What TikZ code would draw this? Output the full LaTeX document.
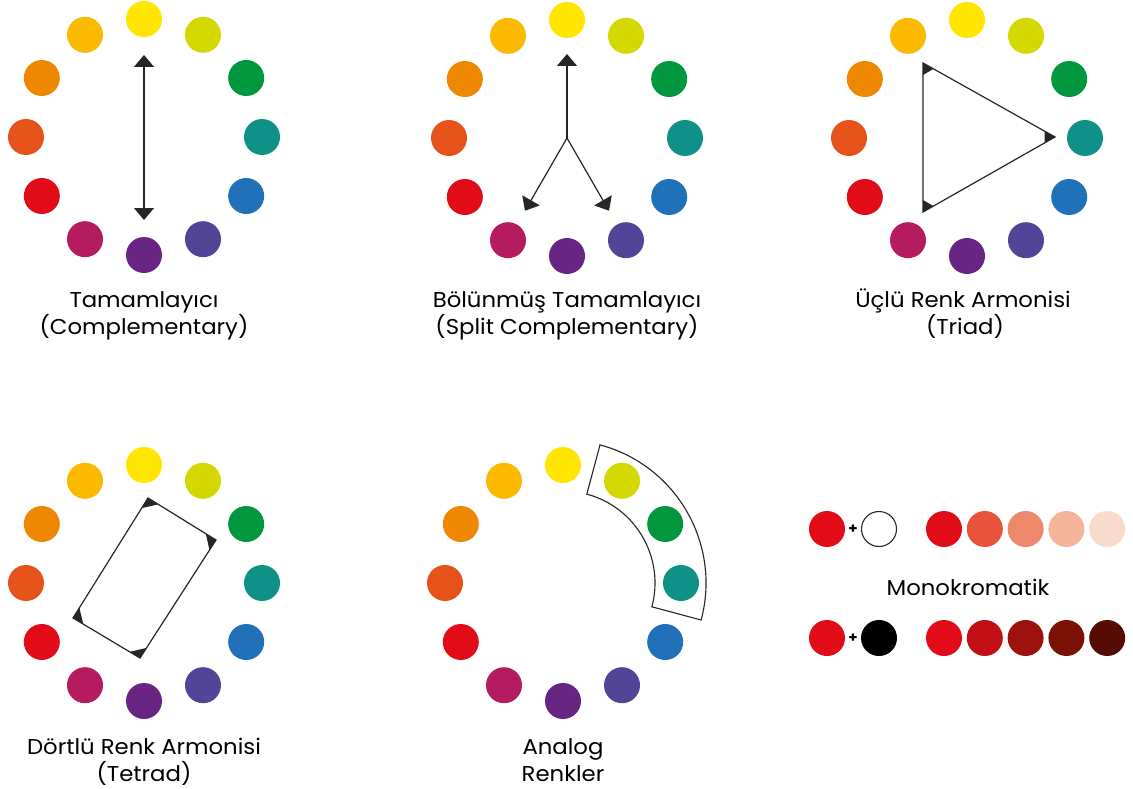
\documentclass[tikz,border=0pt]{standalone}
\usepackage{fontspec}
\setmainfont{Poppins}[FakeStretch=1.06]
\usetikzlibrary{arrows.meta,calc}
\definecolor{cY}{HTML}{FFE500}
\definecolor{cYG}{HTML}{D5D800}
\definecolor{cG}{HTML}{00973F}
\definecolor{cT}{HTML}{0F9187}
\definecolor{cB}{HTML}{2171B9}
\definecolor{cV}{HTML}{524496}
\definecolor{cP}{HTML}{672482}
\definecolor{cM}{HTML}{B51B61}
\definecolor{cR}{HTML}{E20C18}
\definecolor{cRO}{HTML}{E5531B}
\definecolor{cO}{HTML}{EE8800}
\definecolor{cYO}{HTML}{FBBA00}
\definecolor{tA}{HTML}{E8533B}
\definecolor{tB}{HTML}{EE896B}
\definecolor{tC}{HTML}{F4B59A}
\definecolor{tD}{HTML}{F9DBCC}
\definecolor{sA}{HTML}{C10F15}
\definecolor{sB}{HTML}{9C110C}
\definecolor{sC}{HTML}{7A1106}
\definecolor{sD}{HTML}{560B05}
\definecolor{ink}{HTML}{262626}
\tikzset{
  dot/.style={circle,minimum size=36pt,inner sep=0pt,draw=none},
  conn/.style={draw=ink,line width=1.2pt},
  tip/.style={-{Triangle[width=20pt,length=12pt]}},
  lbl/.style={anchor=base,font=\fontsize{21.5}{25}\selectfont,text=black,inner sep=0pt},
  plus/.style={inner sep=0pt,font=\fontsize{14}{14}\selectfont\bfseries}
}
\newcommand{\colwheel}[3]{%
  \begin{scope}[shift={(#2,#3)}]
    \foreach \c [count=\i from 0] in {cY,cYG,cG,cT,cB,cV,cP,cM,cR,cRO,cO,cYO}{
      \node[dot,fill=\c] (#1-\i) at ({90-30*\i}:118) {};
    }
  \end{scope}}
\newcommand{\cornermark}[3]{%
  \fill[ink] (#1) -- ($(#1)!12pt!(#2)$) -- ($(#1)!12pt!(#3)$) -- cycle;}
\begin{document}
\begin{tikzpicture}[x=1pt,y=1pt]
\fill[white] (0,0) rectangle (1133,-789);
\useasboundingbox (0,0) rectangle (1133,-789);

% wheels
\colwheel{wa}{144}{-137}
\colwheel{wb}{567}{-138}
\colwheel{wc}{967}{-138}
\colwheel{wd}{144}{-583}
\colwheel{we}{563}{-583}

% complementary
\coordinate (ca) at (144,-55);
\coordinate (cb) at (144,-220);
\draw[conn,{Triangle[width=20pt,length=12pt]}-{Triangle[width=20pt,length=12pt]}] (ca) -- (cb);

% split complementary
\coordinate (sc) at (567,-138);
\coordinate (s1) at ($(sc)+(90:84)$);
\coordinate (s2) at ($(sc)+(240:84)$);
\coordinate (s3) at ($(sc)+(300:84)$);
\draw[conn,tip] (sc) -- (s1);
\draw[conn,tip] (sc) -- (s2);
\draw[conn,tip] (sc) -- (s3);

% triad
\coordinate (t1) at (923,-63);
\coordinate (t2) at (1055,-137);
\coordinate (t3) at (923,-212);
\draw[conn,line join=miter] (t1) -- (t2) -- (t3) -- cycle;
\cornermark{t1}{t2}{t3}
\cornermark{t2}{t1}{t3}
\cornermark{t3}{t1}{t2}

% tetrad
\coordinate (r1) at (148,-498);
\coordinate (r2) at (216,-540);
\coordinate (r3) at (140,-658);
\coordinate (r4) at (73,-618);
\draw[conn,line join=miter] (r1) -- (r2) -- (r3) -- (r4) -- cycle;
\cornermark{r1}{r2}{r4}
\cornermark{r2}{r1}{r3}
\cornermark{r3}{r2}{r4}
\cornermark{r4}{r3}{r1}

% analog sector
\draw[draw=ink,line width=1.1pt] ($(563,-583)+(75:143)$) arc[start angle=75,end angle=-15,radius=143]
  -- ($(563,-583)+(-15:92)$) arc[start angle=-15,end angle=75,radius=92] -- cycle;

% monochromatic
\node[dot,fill=cR] (m1) at (827,-529) {};
\node[plus] (p1) at (853,-529) {+};
\node[dot,fill=white,draw=ink,line width=1.1pt,minimum size=35pt] (m2) at (879,-529) {};
\foreach \c [count=\i] in {cR,tA,tB,tC,tD}{
  \node[dot,fill=\c] (ta\i) at ({944+40.8*(\i-1)},-529) {};
}
\node[dot,fill=cR] (m3) at (827,-638) {};
\node[plus] (p2) at (853,-638) {+};
\node[dot,fill=black] (m4) at (879,-638) {};
\foreach \c [count=\i] in {cR,sA,sB,sC,sD}{
  \node[dot,fill=\c] (sa\i) at ({944+40.8*(\i-1)},-638) {};
}

% labels
\node[lbl] (l1a) at (144,-307) {Tamamlayıcı};
\node[lbl] (l1b) at (144,-334) {(Complementary)};
\node[lbl] (l2a) at (567,-307) {Bölünmüş Tamamlayıcı};
\node[lbl] (l2b) at (567,-334) {(Split Complementary)};
\node[lbl] (l3a) at (963,-307) {Üçlü Renk Armonisi};
\node[lbl] (l3b) at (965,-334) {(Triad)};
\node[lbl] (l4a) at (144,-754) {Dörtlü Renk Armonisi};
\node[lbl] (l4b) at (144,-781) {(Tetrad)};
\node[lbl] (l5a) at (563,-754) {Analog};
\node[lbl] (l5b) at (563,-781) {Renkler};
\node[lbl] (l6) at (968,-595) {Monokromatik};
\end{tikzpicture}
\end{document}
